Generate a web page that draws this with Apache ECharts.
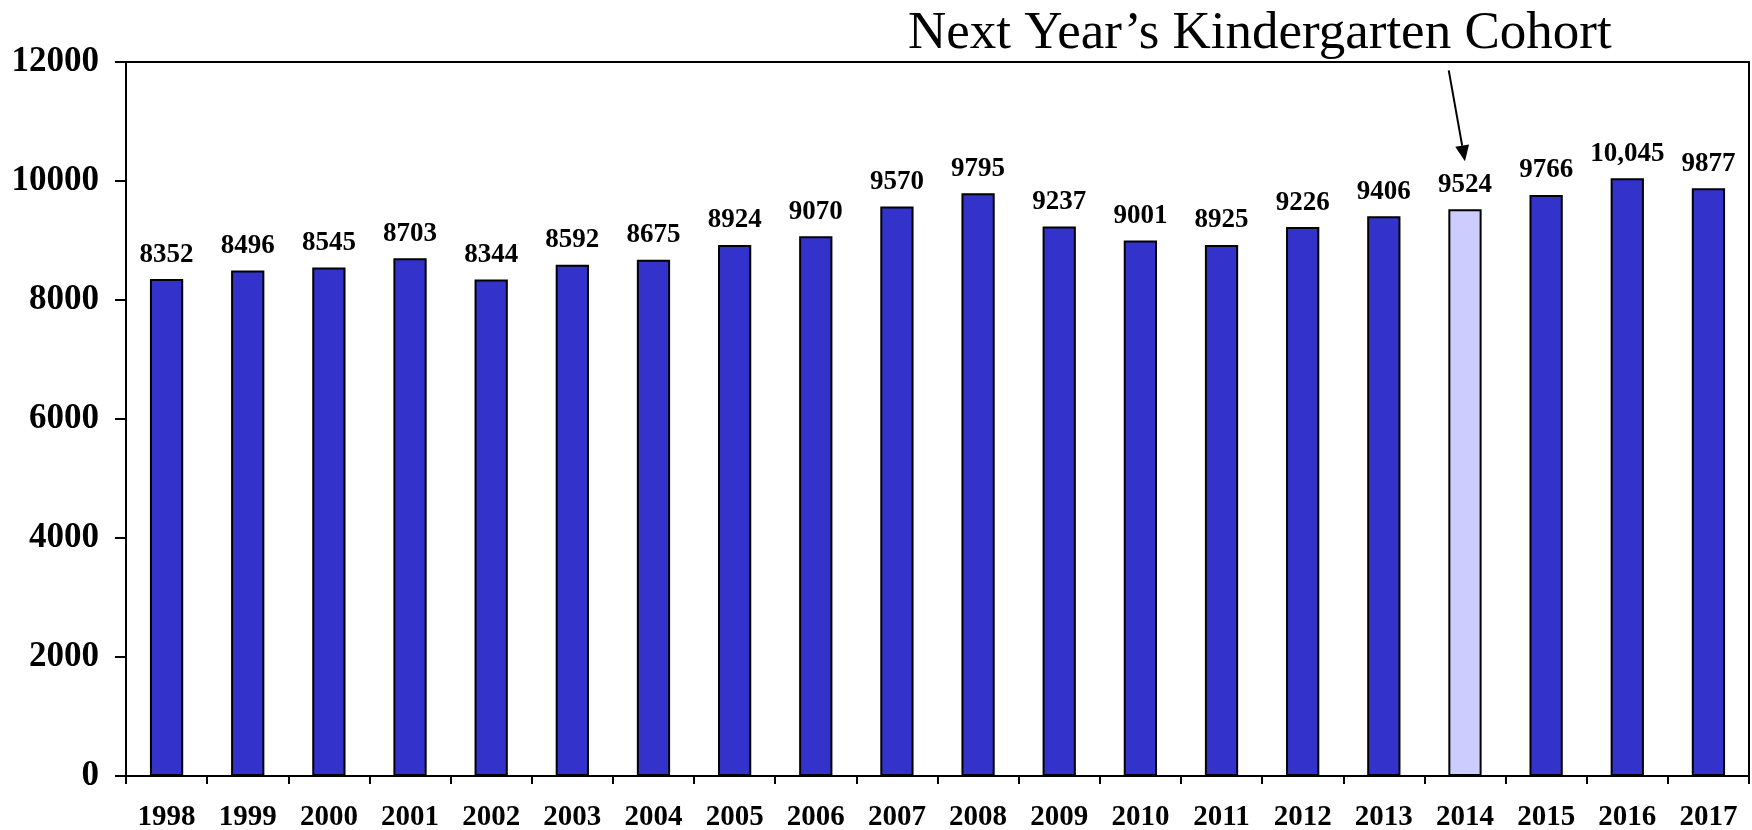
<!DOCTYPE html>
<html>
<head>
<meta charset="utf-8">
<script src="https://cdn.jsdelivr.net/npm/echarts@6/dist/echarts.min.js"></script>
<style>
html,body{margin:0;padding:0;background:#fff;}
#chart{width:1752px;height:830px;}
</style>
</head>
<body>
<div id="chart"></div>
<script>
const years = ['1998','1999','2000','2001','2002','2003','2004','2005','2006','2007','2008','2009','2010','2011','2012','2013','2014','2015','2016','2017'];
const cohort = [8352,8496,8545,8703,8344,8592,8675,8924,9070,9570,9795,9237,9001,8925,9226,9406,9524,9766,10045,9877];
const highlightYear = '2014';
const yTicks = [0,2000,4000,6000,8000,10000,12000];
const titleText = 'Next Year\u2019s Kindergarten Cohort';
const arrowFrom = 11860;  // value level of arrow start
const arrowTo = 10330;    // value level of arrow tip

const serif = '"Liberation Serif","Times New Roman",serif';
const chart = echarts.init(document.getElementById('chart'));

const fmt = v => v >= 10000 ? echarts.format.addCommas(v) : String(v);

chart.setOption({
  animation: false,
  backgroundColor: '#fff',
  title: {
    text: titleText,
    left: 903, top: 3,
    textStyle: {fontFamily: serif, fontSize: 53, fontWeight: 'normal', color: '#000'}
  },
  grid: {left: 126, right: 3, top: 62, bottom: 54, show: true, borderColor: '#000', borderWidth: 2,
         backgroundColor: 'transparent', outerBoundsMode: 'none', containLabel: false},
  xAxis: {
    type: 'category', data: years,
    axisLine: {lineStyle: {color: '#000', width: 2}},
    axisTick: {show: true, length: 8, lineStyle: {color: '#000', width: 2}},
    axisLabel: {fontFamily: serif, fontSize: 29, fontWeight: 'bold', color: '#000', margin: 27}
  },
  yAxis: {
    type: 'value', min: yTicks[0], max: yTicks[yTicks.length-1], interval: yTicks[1]-yTicks[0],
    axisLine: {show: true, lineStyle: {color: '#000', width: 2}},
    axisTick: {show: true, length: 11, lineStyle: {color: '#000', width: 2}},
    splitLine: {show: false},
    axisLabel: {fontFamily: serif, fontSize: 35, fontWeight: 'bold', color: '#000', margin: 27,
                formatter: v => String(v)}
  },
  series: [{
    type: 'bar',
    barWidth: '41%',
    data: cohort.map((v, i) => ({
      value: v,
      itemStyle: {color: years[i] === highlightYear ? '#CCCCFF' : '#3333CC', borderColor: '#000', borderWidth: 2}
    })),
    label: {
      show: true, position: 'top', distance: 11,
      fontFamily: serif, fontSize: 27, fontWeight: 'bold', color: '#000',
      formatter: p => fmt(p.value)
    }
  }]
});

const idx = years.indexOf(highlightYear);
const tip = chart.convertToPixel({gridIndex: 0}, [idx, arrowTo]);
const prev = chart.convertToPixel({gridIndex: 0}, [idx - 1, arrowFrom]);
const band = tip[0] - prev[0];
const startPt = [tip[0] - 0.2 * band, prev[1]];
const dx = tip[0] - startPt[0], dy = tip[1] - startPt[1];
const len = Math.sqrt(dx*dx + dy*dy);
const ux = dx/len, uy = dy/len;
const headLen = 16, headW = 7;
const bx = tip[0] - ux*headLen, by = tip[1] - uy*headLen;
chart.setOption({
  graphic: [
    {type: 'line', shape: {x1: startPt[0], y1: startPt[1], x2: bx, y2: by}, style: {stroke: '#000', lineWidth: 2}},
    {type: 'polygon', shape: {points: [[tip[0], tip[1]], [bx - uy*headW, by + ux*headW], [bx + uy*headW, by - ux*headW]]}, style: {fill: '#000'}}
  ]
});
</script>
</body>
</html>
